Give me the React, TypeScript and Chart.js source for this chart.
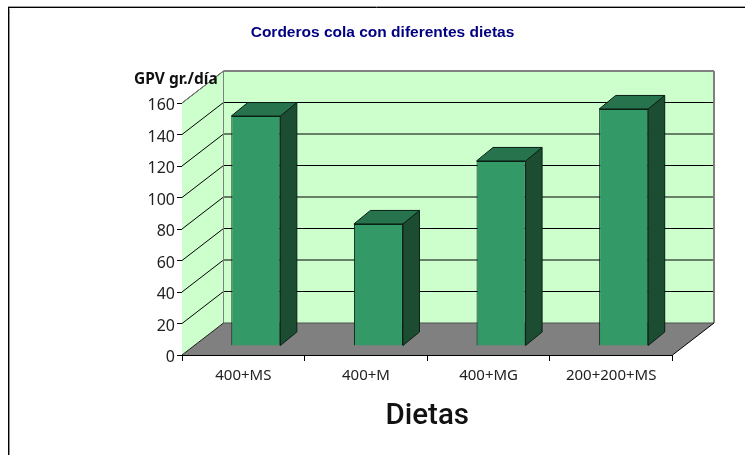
import React, { useEffect, useRef } from "react";
import { Chart, registerables } from "chart.js";

Chart.register(...registerables);

const categories = ["400+MS", "400+M", "400+MG", "200+200+MS"];
const gainValues = [146, 77.5, 117.5, 150.5];
const yMin = 0;
const yMax = 160;
const yStep = 20;
const chartTitle = "Corderos cola con diferentes dietas";
const yLabel = "GPV gr./día";
const xLabel = "Dietas";

// 3D projection offsets (pixels)
const WALL_DX = 41.5;
const WALL_DY = -32;
const BAR_DX = 12.5;
const BAR_DY = -9;
const SIDE_DX = 16.5;
const SIDE_DY = -13.5;

const poly = (ctx: CanvasRenderingContext2D, pts: number[][], fill?: string, stroke?: string) => {
  ctx.beginPath();
  pts.forEach(([x, y], i) => (i ? ctx.lineTo(x, y) : ctx.moveTo(x, y)));
  ctx.closePath();
  if (fill) {
    ctx.fillStyle = fill;
    ctx.fill();
  }
  if (stroke) {
    ctx.strokeStyle = stroke;
    ctx.lineWidth = 1;
    ctx.stroke();
  }
};

const line = (ctx: CanvasRenderingContext2D, x1: number, y1: number, x2: number, y2: number, color: string, w = 1) => {
  ctx.beginPath();
  ctx.moveTo(x1, y1);
  ctx.lineTo(x2, y2);
  ctx.strokeStyle = color;
  ctx.lineWidth = w;
  ctx.stroke();
};

const frame3d = {
  id: "frame3d",
  beforeDraw(chart: any) {
    const ctx = chart.ctx;
    ctx.save();
    ctx.fillStyle = "#ffffff";
    ctx.fillRect(0, 0, chart.width, chart.height);
    line(ctx, 8, 6.5, chart.width, 6.5, "#a0a0a0");
    line(ctx, 8, 7.5, chart.width, 7.5, "#000000");
    line(ctx, 8.5, 7.5, 8.5, chart.height, "#000000");
    line(ctx, 9.5, 8.5, 9.5, chart.height, "#909090");
    ctx.restore();
  },
  beforeDatasetsDraw(chart: any) {
    const ctx = chart.ctx;
    const { left, right } = chart.chartArea;
    const y = chart.scales.y;
    const y0 = y.getPixelForValue(yMin);
    const yT = y.getPixelForValue(yMax);
    const bx = left + WALL_DX;
    const rx = right + WALL_DX;
    ctx.save();
    poly(ctx, [[left, y0], [bx, y0 + WALL_DY], [bx, yT + WALL_DY], [left, yT]], "#CCFFCC");
    poly(ctx, [[bx, y0 + WALL_DY], [rx, y0 + WALL_DY], [rx, yT + WALL_DY], [bx, yT + WALL_DY]], "#CCFFCC");
    poly(ctx, [[left, y0], [right, y0], [rx, y0 + WALL_DY], [bx, y0 + WALL_DY]], "#808080");
    for (let v = yMin + yStep; v <= yMax; v += yStep) {
      const p = y.getPixelForValue(v);
      line(ctx, left, p, bx, p + WALL_DY, "#000000");
      if (v < yMax) line(ctx, bx, p + WALL_DY, rx, p + WALL_DY, "#000000");
    }
    line(ctx, left, yT, bx, yT + WALL_DY, "#808080");
    line(ctx, bx, yT + WALL_DY, rx, yT + WALL_DY, "#808080", 2);
    line(ctx, bx, yT + WALL_DY, bx, y0 + WALL_DY, "#808080");
    line(ctx, rx, yT + WALL_DY, rx, y0 + WALL_DY, "#808080", 2);
    line(ctx, bx, y0 + WALL_DY, rx, y0 + WALL_DY, "#505050");
    line(ctx, left, y0, bx, y0 + WALL_DY, "#202020");
    line(ctx, right, y0, rx, y0 + WALL_DY, "#000000");
    ctx.restore();

    ctx.save();
    ctx.translate(BAR_DX, BAR_DY);
    chart.getDatasetMeta(0).data.forEach((bar: any) => {
      const l = bar.x - bar.width / 2;
      const r = bar.x + bar.width / 2;
      const t = bar.y;
      const b = bar.base;
      poly(ctx, [[r, t], [r + SIDE_DX, t + SIDE_DY], [r + SIDE_DX, b + SIDE_DY], [r, b]], "#1C4D33", "#0A1F14");
      poly(ctx, [[l, t], [l + SIDE_DX, t + SIDE_DY], [r + SIDE_DX, t + SIDE_DY], [r, t]], "#26734D", "#0A1F14");
    });
  },
  afterDatasetsDraw(chart: any) {
    chart.ctx.restore();
  },
  afterDraw(chart: any) {
    const ctx = chart.ctx;
    ctx.save();
    ctx.fillStyle = "#111111";
    ctx.font = 'bold 15.5px "Noto Sans"';
    ctx.textAlign = "left";
    ctx.textBaseline = "middle";
    ctx.fillText(yLabel, 134, 80);
    ctx.restore();
  },
};

export default function App() {
  const ref = useRef<HTMLCanvasElement>(null);
  useEffect(() => {
    document.body.style.margin = "0";
    const chart = new Chart(ref.current as HTMLCanvasElement, {
      type: "bar",
      data: {
        labels: categories,
        datasets: [
          {
            data: gainValues,
            backgroundColor: "#339966",
            borderColor: "#0A1F14",
            borderWidth: 1,
            barPercentage: 0.4,
            categoryPercentage: 1,
          },
        ],
      },
      plugins: [frame3d],
      options: {
        responsive: false,
        animation: false,
        events: [],
        layout: { padding: { left: 92.5, right: 72.5, top: 0, bottom: 22 } },
        plugins: {
          legend: { display: false },
          tooltip: { enabled: false },
          title: {
            display: true,
            text: chartTitle,
            color: "#000080",
            font: { family: '"Liberation Sans"', size: 15.5, weight: "bold", lineHeight: 1.2 },
            padding: { top: 23.2, bottom: 61.2 },
          },
        },
        scales: {
          x: {
            afterFit: (s: any) => {
              s.height = 78;
            },
            grid: { drawOnChartArea: false, color: "#000000", tickLength: 6, tickColor: "#000000" },
            border: { color: "#000000", width: 1 },
            ticks: { color: "#222222", font: { family: '"Noto Sans"', size: 15 }, padding: 6, maxRotation: 0 },
            title: {
              display: true,
              text: xLabel,
              color: "#111111",
              font: { family: "Roboto", size: 29.5, weight: "500", lineHeight: 1.1 },
              padding: { top: 12, bottom: 0 },
            },
          },
          y: {
            min: yMin,
            max: yMax,
            afterFit: (s: any) => {
              s.width = 89.5;
            },
            grid: { drawOnChartArea: false, color: "#000000", tickLength: 5, tickColor: "#000000" },
            border: { color: "#000000", width: 1 },
            ticks: { stepSize: yStep, color: "#222222", font: { family: '"Noto Sans"', size: 16 }, padding: 2, labelOffset: 2.5 },
          },
        },
      },
    });
    return () => chart.destroy();
  }, []);
  return <canvas ref={ref} width={745} height={455} style={{ display: "block" }} />;
}
